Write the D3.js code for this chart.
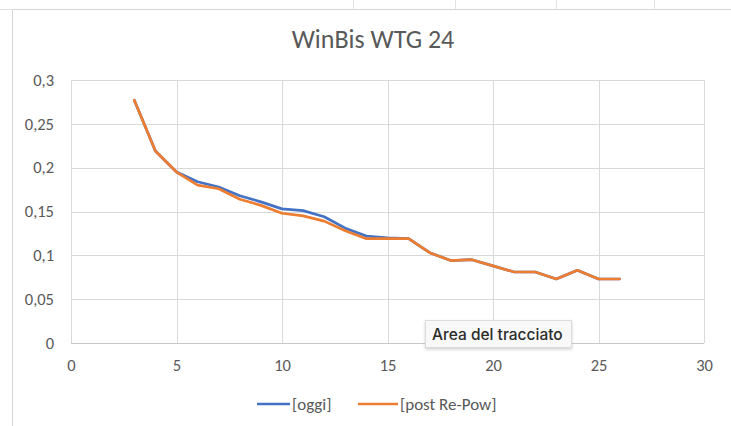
<!DOCTYPE html>
<html>
<head>
<meta charset="utf-8">
<script src="https://cdn.jsdelivr.net/npm/d3@7"></script>
<style>
  html, body { margin: 0; padding: 0; background: #fff; }
  svg { display: block; }
</style>
</head>
<body>
<svg id="chart" width="731" height="426"></svg>
<script>
// Wind speed bins (x) and the two curves
const speeds = [3, 4, 5, 6, 7, 8, 9, 10, 11, 12, 13, 14, 15, 16, 17, 18, 19, 20, 21, 22, 23, 24, 25, 26];
const oggi = [0.277, 0.219, 0.195, 0.184, 0.178, 0.168, 0.161, 0.153, 0.151, 0.144, 0.131, 0.122, 0.120, 0.119, 0.103, 0.094, 0.095, 0.088, 0.081, 0.081, 0.073, 0.083, 0.073, 0.073];
const postRePow = [0.277, 0.219, 0.195, 0.180, 0.176, 0.164, 0.157, 0.148, 0.145, 0.139, 0.128, 0.119, 0.119, 0.119, 0.103, 0.094, 0.095, 0.088, 0.081, 0.081, 0.073, 0.083, 0.073, 0.073];
const xTicks = [0, 5, 10, 15, 20, 25, 30];
const yTicks = [0, 0.05, 0.1, 0.15, 0.2, 0.25, 0.3];
const seriesNames = ["[oggi]", "[post Re-Pow]"];
const chartTitle = "WinBis WTG 24";
const hoverLabel = "Area del tracciato";

const svg = d3.select("#chart");
const font = "Carlito, 'Open Sans', 'Liberation Sans', sans-serif";
const textColor = "#595959";
const gridColor = "#d9d9d9";
const colors = ["#4472C4", "#ED7D31"];

// Sheet cell lines peeking above the chart object
const sheet = svg.append("g").attr("stroke", "#e3e3e3").attr("stroke-width", 1);
[353, 455, 556, 654].forEach(x => sheet.append("line").attr("x1", x + 0.5).attr("x2", x + 0.5).attr("y1", 0).attr("y2", 9));
sheet.append("line").attr("x1", 0).attr("x2", 731).attr("y1", 9.5).attr("y2", 9.5);

// Chart object frame
svg.append("rect").attr("x", 12.5).attr("y", 9.5).attr("width", 740).attr("height", 440)
  .attr("fill", "#fff").attr("stroke", "#d6d6d6");

const plot = { left: 71, right: 704, top: 80, bottom: 343 };
const x = d3.scaleLinear().domain([0, 30]).range([plot.left, plot.right]);
const y = d3.scaleLinear().domain([0, 0.3]).range([plot.bottom, plot.top]);

// Gridlines
const grid = svg.append("g");
grid.selectAll("line.h").data(yTicks.filter(d => d > 0)).join("line")
  .attr("x1", plot.left).attr("x2", plot.right)
  .attr("y1", d => Math.round(y(d)) + 0.5).attr("y2", d => Math.round(y(d)) + 0.5)
  .attr("stroke", gridColor).attr("stroke-width", 1);
grid.selectAll("line.v").data(xTicks).join("line")
  .attr("x1", d => Math.round(x(d)) + 0.5).attr("x2", d => Math.round(x(d)) + 0.5)
  .attr("y1", plot.top).attr("y2", plot.bottom)
  .attr("stroke", gridColor).attr("stroke-width", 1);
// Horizontal baseline
grid.append("line")
  .attr("x1", plot.left).attr("x2", plot.right)
  .attr("y1", Math.round(y(0)) + 0.5).attr("y2", Math.round(y(0)) + 0.5)
  .attr("stroke", "#c8c8c8").attr("stroke-width", 1);

// Axes (labels only, Excel-style)
const fmt = d => String(d).replace(".", ",");
const yAxis = svg.append("g").attr("transform", `translate(${plot.left},0)`)
  .call(d3.axisLeft(y).tickValues(yTicks).tickFormat(fmt).tickSize(0).tickPadding(17));
const xAxis = svg.append("g").attr("transform", `translate(0,${plot.bottom})`)
  .call(d3.axisBottom(x).tickValues(xTicks).tickFormat(fmt).tickSize(0).tickPadding(16));
[yAxis, xAxis].forEach(a => {
  a.select(".domain").remove();
  a.selectAll("text").attr("fill", textColor).style("font-family", font).style("font-size", "16.5px");
});

// Series lines
const line = d3.line().x((d, i) => x(speeds[i])).y(d => y(d));
[oggi, postRePow].forEach((vals, i) => {
  svg.append("path").datum(vals)
    .attr("d", line)
    .attr("fill", "none")
    .attr("stroke", colors[i])
    .attr("stroke-width", 2.7)
    .attr("stroke-linejoin", "round")
    .attr("stroke-linecap", "round");
});

// Title
svg.append("text").attr("x", 373).attr("y", 48).attr("text-anchor", "middle")
  .attr("fill", textColor).style("font-family", font).style("font-size", "26px")
  .text(chartTitle);

// Legend
const legendItems = [{ x1: 257, x2: 290, tx: 292 }, { x1: 358, x2: 398, tx: 400 }];
legendItems.forEach((it, i) => {
  svg.append("line").attr("x1", it.x1).attr("x2", it.x2).attr("y1", 404).attr("y2", 404)
    .attr("stroke", colors[i]).attr("stroke-width", 2.7);
  svg.append("text").attr("x", it.tx).attr("y", 409.5)
    .attr("fill", textColor).style("font-family", font).style("font-size", "17px")
    .text(seriesNames[i]);
});

// Hover tooltip over the plot area
const defs = svg.append("defs");
const f = defs.append("filter").attr("id", "shadow").attr("x", "-10%").attr("y", "-30%").attr("width", "120%").attr("height", "170%");
f.append("feDropShadow").attr("dx", 0).attr("dy", 1.5).attr("stdDeviation", 1.5).attr("flood-color", "#000").attr("flood-opacity", 0.18);
const tip = svg.append("g");
tip.append("rect").attr("x", 425.5).attr("y", 320.5).attr("width", 146).attr("height", 27)
  .attr("fill", "#f8f8f8").attr("stroke", "#dcdcdc").attr("filter", "url(#shadow)");
tip.append("text").attr("x", 432).attr("y", 339.5)
  .attr("fill", "#2b2b2b").style("font-family", "Inter, 'Liberation Sans', Arial, sans-serif")
  .style("font-size", "15.5px").style("font-weight", "500")
  .text(hoverLabel);
</script>
</body>
</html>
